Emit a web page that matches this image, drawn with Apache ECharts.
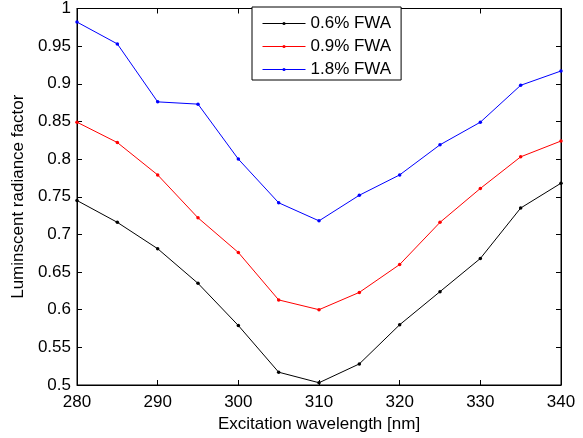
<!DOCTYPE html>
<html><head><meta charset="utf-8">
<script src="https://cdn.jsdelivr.net/npm/echarts@6/dist/echarts.min.js"></script>
<style>html,body{margin:0;padding:0;background:#fff}#c{width:583px;height:438px}</style>
</head><body><div id="c"></div>
<script>
const wavelengths = [280, 285, 290, 295, 300, 305, 310, 315, 320, 325, 330, 335, 340];
const fwa06 = [0.745, 0.716, 0.681, 0.635, 0.579, 0.517, 0.503, 0.528, 0.580, 0.624, 0.668, 0.735, 0.768];
const fwa09 = [0.849, 0.822, 0.779, 0.722, 0.676, 0.613, 0.600, 0.623, 0.660, 0.716, 0.761, 0.803, 0.824];
const fwa18 = [0.982, 0.953, 0.876, 0.873, 0.800, 0.742, 0.718, 0.752, 0.779, 0.819, 0.849, 0.898, 0.917];
const seriesNames = ['0.6% FWA', '0.9% FWA', '1.8% FWA'];
const colors = ['#000000', '#ff0000', '#0000ff'];

const font = 'Liberation Sans, Arial, Helvetica, sans-serif';
function pairs(v){ return wavelengths.map((x,i)=>[x, v[i]]); }
const chart = echarts.init(document.getElementById('c'), null, {renderer:'canvas'});
const axLine = {show:true, lineStyle:{color:'#000', width:1}};
const tick = {show:true, inside:true, length:5, lineStyle:{color:'#000'}};
chart.setOption({
  animation:false,
  backgroundColor:'#fff',
  grid:{left:77, top:7, right:22, bottom:50, show:true, borderColor:'#000', borderWidth:1},
  xAxis:[
    {type:'value', min:280, max:340, interval:10, position:'bottom', axisLine:axLine, axisTick:tick,
     splitLine:{show:false}, axisLabel:{color:'#000', fontSize:17, fontFamily:font, margin:9},
     name:'Excitation wavelength [nm]', nameLocation:'middle', nameGap:31,
     nameTextStyle:{color:'#000', fontSize:17, fontFamily:font}},
    {type:'value', min:280, max:340, interval:10, position:'top', axisLine:axLine, axisTick:tick,
     splitLine:{show:false}, axisLabel:{show:false}}
  ],
  yAxis:[
    {type:'value', min:0.5, max:1, interval:0.05, position:'left', axisLine:axLine, axisTick:tick,
     splitLine:{show:false}, axisLabel:{color:'#000', fontSize:17, fontFamily:font, margin:6},
     name:'Luminscent radiance factor', nameLocation:'middle', nameGap:44,
     nameTextStyle:{color:'#000', fontSize:17, fontFamily:font}},
    {type:'value', min:0.5, max:1, interval:0.05, position:'right', axisLine:axLine, axisTick:tick,
     splitLine:{show:false}, axisLabel:{show:false}}
  ],
  legend:{
    left:252, top:7, orient:'vertical', width:150,
    padding:[7,10,1,10], itemGap:4, itemWidth:43, itemHeight:4,
    borderColor:'#000', borderWidth:1, backgroundColor:'#fff', borderRadius:0,
    lineStyle:{width:1},
    textStyle:{color:'#000', fontSize:17, fontFamily:font, lineHeight:19},
    data: seriesNames
  },
  series:[fwa06, fwa09, fwa18].map((v,i)=>({
    name:seriesNames[i], type:'line', data:pairs(v),
    symbol:'circle', symbolSize:3.5, showSymbol:true,
    lineStyle:{color:colors[i], width:1}, itemStyle:{color:colors[i]}
  }))
});
</script></body></html>
